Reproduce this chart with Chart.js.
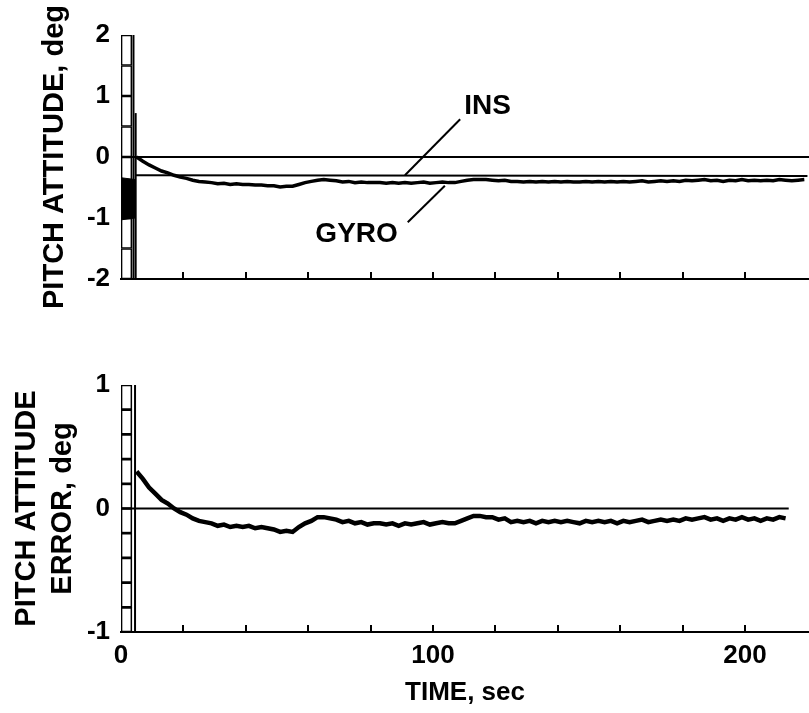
<!DOCTYPE html>
<html>
<head>
<meta charset="utf-8">
<title>Pitch attitude</title>
<script src="https://cdn.jsdelivr.net/npm/chart.js@4.4.1/dist/chart.umd.min.js"></script>
<style>
  html, body { margin: 0; padding: 0; background: #fff; }
  #wrap { position: relative; width: 809px; height: 713px; overflow: hidden; }
  canvas { position: absolute; left: 0; }
  #attitudeChart { top: 0; }
  #errorChart { top: 340px; }
</style>
</head>
<body>
<div id="wrap">
  <canvas id="attitudeChart" width="809" height="322"></canvas>
  <canvas id="errorChart" width="809" height="373"></canvas>
</div>
<script>
// samples are every 2 s starting at t = 5 s
const SAMPLE_START = 5;
const SAMPLE_STEP = 2;

// gyro pitch attitude, deg (5..219 s)
const gyroDeg = [
     0.00, -0.07, -0.13, -0.18, -0.23, -0.26, -0.30, -0.33, -0.35, -0.38,
    -0.40, -0.41, -0.42, -0.44, -0.43, -0.45, -0.44, -0.45, -0.45, -0.46,
    -0.46, -0.47, -0.47, -0.49, -0.48, -0.48, -0.45, -0.42, -0.40, -0.38,
    -0.37, -0.38, -0.39, -0.41, -0.40, -0.42, -0.41, -0.42, -0.42, -0.42,
    -0.43, -0.42, -0.43, -0.42, -0.43, -0.42, -0.41, -0.43, -0.42, -0.41,
    -0.42, -0.42, -0.40, -0.38, -0.37, -0.37, -0.37, -0.38, -0.39, -0.38,
    -0.40, -0.40, -0.41, -0.40, -0.41, -0.40, -0.41, -0.40, -0.41, -0.40,
    -0.41, -0.41, -0.40, -0.41, -0.40, -0.41, -0.40, -0.41, -0.40, -0.41,
    -0.40, -0.39, -0.41, -0.40, -0.39, -0.40, -0.39, -0.40, -0.38, -0.39,
    -0.38, -0.37, -0.39, -0.38, -0.40, -0.38, -0.39, -0.37, -0.39, -0.38,
    -0.39, -0.38, -0.39, -0.37, -0.38, -0.39, -0.38, -0.37
];

// INS reference attitude, deg
const insTime = [4.5, 220];
const insDeg = [-0.30, -0.31];

// pitch attitude error (gyro - INS), deg (5..213 s)
const errorDeg = [
     0.30,  0.24,  0.17,  0.12,  0.07,  0.04,  0.00, -0.03, -0.05, -0.08,
    -0.10, -0.11, -0.12, -0.14, -0.13, -0.15, -0.14, -0.15, -0.14, -0.16,
    -0.15, -0.16, -0.17, -0.19, -0.18, -0.19, -0.15, -0.12, -0.10, -0.07,
    -0.07, -0.08, -0.09, -0.11, -0.10, -0.12, -0.11, -0.13, -0.12, -0.12,
    -0.13, -0.12, -0.14, -0.12, -0.13, -0.12, -0.11, -0.13, -0.12, -0.11,
    -0.12, -0.12, -0.10, -0.08, -0.06, -0.06, -0.07, -0.07, -0.09, -0.08,
    -0.11, -0.10, -0.11, -0.10, -0.12, -0.10, -0.11, -0.10, -0.11, -0.10,
    -0.11, -0.12, -0.10, -0.11, -0.10, -0.11, -0.10, -0.12, -0.10, -0.11,
    -0.10, -0.09, -0.11, -0.10, -0.09, -0.10, -0.09, -0.10, -0.08, -0.09,
    -0.08, -0.07, -0.09, -0.08, -0.10, -0.08, -0.09, -0.07, -0.09, -0.08,
    -0.10, -0.08, -0.09, -0.07, -0.08
];

const timeLabels = [0, 100, 200];

// ruler strip cells up the y axis
const attitudeStrip = [-2, -1.5, -1, -0.5, 0, 0.5, 1, 1.5, 2];
const errorStrip = [-1, -0.8, -0.6, -0.4, -0.2, 0, 0.2, 0.4, 0.6, 0.8, 1];
const stripTime = 1.75;

// saturated trace at recorder start
const burstTime = [0, 4.6];
const burstHigh = [-0.34, -0.37];
const burstLow = [-1.03, -1.0];

// start marks
const markTop = 4.0;
const spikeTime = 4.7;
const spikePeak = 0.72;
const markBottom = 4.5;

const FONT = '"Liberation Sans", Arial, Helvetica, sans-serif';

function toPoints(values) {
    return values.map((v, i) => ({ x: SAMPLE_START + SAMPLE_STEP * i, y: v }));
}

function pairs(xs, ys) {
    return xs.map((x, i) => ({ x: x, y: ys[i] }));
}

function line(data, width, extra) {
    return Object.assign({
        type: 'line',
        data: data,
        borderColor: '#000',
        borderWidth: width,
        pointRadius: 0,
        tension: 0,
        fill: false,
        order: 1
    }, extra || {});
}

function stripCells(edges) {
    const cells = [];
    for (let i = 0; i < edges.length - 1; i++) {
        cells.push({ x: stripTime, y: [edges[i], edges[i + 1]] });
    }
    return {
        type: 'bar',
        data: cells,
        backgroundColor: '#fff',
        borderColor: '#000',
        borderWidth: 1.7,
        borderSkipped: false,
        barThickness: 11,
        grouped: false,
        order: 10
    };
}

// text labels placed in data coordinates
const calloutPlugin = {
    id: 'callouts',
    afterDatasetsDraw(chart, args, opts) {
        const items = (opts && opts.items) || [];
        const ctx = chart.ctx;
        const xs = chart.scales.x, ys = chart.scales.y;
        ctx.save();
        ctx.font = 'bold 28px ' + FONT;
        ctx.fillStyle = '#000';
        ctx.textAlign = 'center';
        ctx.textBaseline = 'alphabetic';
        items.forEach(c => ctx.fillText(c.text, xs.getPixelForValue(c.t), ys.getPixelForValue(c.v)));
        ctx.restore();
    }
};

function xScale(showLabels, axisHeight) {
    return {
        type: 'linear',
        min: 0,
        max: 220.5,
        offset: false,
        border: { display: true, color: '#000', width: 2 },
        grid: {
            display: true,
            drawOnChartArea: false,
            drawTicks: true,
            tickLength: -7,
            lineWidth: 2,
            offset: false,
            color: c => (c.tick && c.tick.value > 0 && c.tick.value <= 200) ? '#000' : 'rgba(0,0,0,0)'
        },
        ticks: {
            display: showLabels,
            stepSize: 20,
            autoSkip: false,
            maxRotation: 0,
            padding: 15,
            color: '#000',
            font: { family: FONT, size: 26, weight: 'bold' },
            callback: v => timeLabels.includes(v) ? String(v) : ''
        },
        title: {
            display: showLabels,
            text: 'TIME, sec',
            color: '#000',
            font: { family: FONT, size: 26, weight: 'bold' },
            padding: { top: 0, bottom: 5 }
        },
        // fixed axis height, no extra side padding for the end labels
        afterFit: s => {
            s.height = axisHeight;
            s.paddingLeft = 0;
            s.paddingRight = 0;
        }
    };
}

function yScale(min, max, title, titlePad, lineHeight) {
    return {
        type: 'linear',
        min: min,
        max: max,
        border: { display: false },
        grid: { display: false, drawTicks: false },
        ticks: {
            stepSize: 1,
            padding: 11,
            color: '#000',
            font: { family: FONT, size: 26, weight: 'bold' }
        },
        title: {
            display: true,
            text: title,
            color: '#000',
            font: { family: FONT, size: 29, weight: 'bold', lineHeight: lineHeight },
            padding: { top: titlePad, bottom: 0 }
        },
        afterFit: s => {
            s.width = 121;
            s.paddingTop = 0;
            s.paddingBottom = 0;
        }
    };
}

function baseOptions(padTop, padBottom, axisHeight, showLabels) {
    return {
        responsive: false,
        animation: false,
        layout: { padding: { top: padTop, bottom: padBottom, left: 0, right: 0 } },
        plugins: { legend: { display: false }, tooltip: { enabled: false } },
        scales: { x: xScale(showLabels, axisHeight) }
    };
}

// top panel: gyro and INS pitch attitude
const attitudeOptions = baseOptions(35, 22, 21, false);
attitudeOptions.scales.y = yScale(-2, 2, 'PITCH ATTITUDE, deg', 38, 1.2);
attitudeOptions.plugins.callouts = {
    items: [
        { text: 'INS', t: 117.5, v: 0.70 },
        { text: 'GYRO', t: 75.5, v: -1.39 }
    ]
};

new Chart(document.getElementById('attitudeChart').getContext('2d'), {
    type: 'line',
    data: {
        datasets: [
            stripCells(attitudeStrip),
            line(pairs(burstTime, burstHigh), 1, { order: 5 }),
            line(pairs(burstTime, burstLow), 1, { order: 5, fill: '-1', backgroundColor: '#000' }),
            line([{ x: 0, y: 0 }, { x: 220.5, y: 0 }], 2),
            line([{ x: markTop, y: -2 }, { x: markTop, y: 2 }], 2),
            line([{ x: spikeTime, y: -2 }, { x: spikeTime, y: spikePeak }], 2),
            line(pairs(insTime, insDeg), 2),
            line(toPoints(gyroDeg), 3.5),
            line([{ x: 91.0, y: -0.30 }, { x: 108.7, y: 0.62 }], 2),
            line([{ x: 103.8, y: -0.47 }, { x: 91.9, y: -1.07 }], 2)
        ]
    },
    options: attitudeOptions,
    plugins: [calloutPlugin]
});

// bottom panel: attitude error
const errorOptions = baseOptions(45, 0, 81, true);
errorOptions.scales.y = yScale(-1, 1, ['PITCH ATTITUDE', 'ERROR, deg'], 9, 1.24);

new Chart(document.getElementById('errorChart').getContext('2d'), {
    type: 'line',
    data: {
        datasets: [
            stripCells(errorStrip),
            line([{ x: 0, y: 0 }, { x: 214, y: 0 }], 2),
            line([{ x: markBottom, y: -1 }, { x: markBottom, y: 1 }], 2),
            line(toPoints(errorDeg), 4.5)
        ]
    },
    options: errorOptions
});
</script>
</body>
</html>
